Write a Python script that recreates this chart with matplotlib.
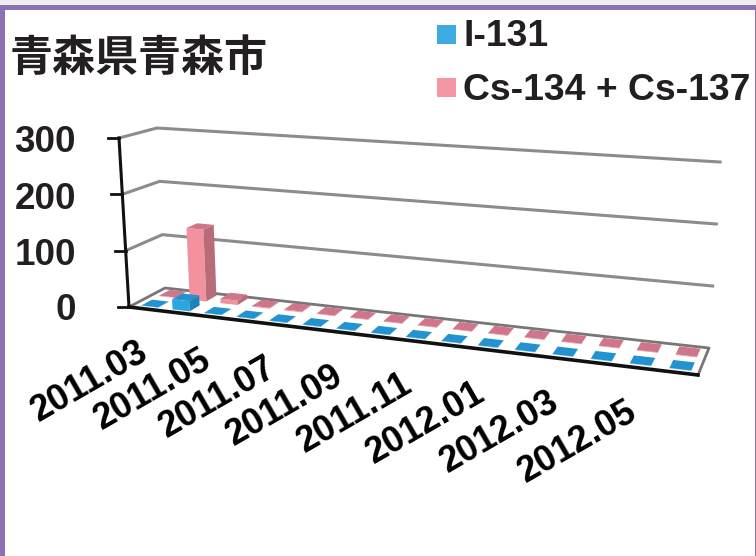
import matplotlib
matplotlib.use("Agg")
import matplotlib.pyplot as plt
from matplotlib.patches import Polygon, Rectangle
import numpy as np

# ---- data ----
months = ["2011.03","2011.04","2011.05","2011.06","2011.07","2011.08","2011.09","2011.10",
          "2011.11","2011.12","2012.01","2012.02","2012.03","2012.04","2012.05","2012.06"]
i131 = [0.5,18,0.5,0.5,0.5,0.5,0.5,0.5,0.5,0.5,0.5,0.5,0.5,0.5,0.5,0.5]
cs = [1,130,8,1.5,1.5,1,1,1,1,1,1,1,1,1,1,1]
yticks = [0,100,200,300]
title = "青森県青森市"
series_names = ["I-131","Cs-134 + Cs-137"]
FONT = ["Liberation Sans","Noto Sans CJK JP","DejaVu Sans"]

fig = plt.figure(figsize=(7.56,5.56),dpi=100)
ax = fig.add_axes([0,0,1,1])
ax.set_xlim(0,756); ax.set_ylim(556,0); ax.axis("off")

# perspective box: corners (front/back, left/right) at value 0 and value 300
FL0,FR0,BL0,BR0 = map(np.array,[(129,307),(698,375),(165,288),(709,348)])
FL3,FR3,BL3,BR3 = map(np.array,[(119,138),(711,180),(157,128),(720,162)])
K=1.15
def proj(u,d,v):
    f=u/(u+K*(1-u))
    t=v/300
    front0=FL0+(FR0-FL0)*f; back0=BL0+(BR0-BL0)*f
    front3=FL3+(FR3-FL3)*f; back3=BL3+(BR3-BL3)*f
    a=front0+(back0-front0)*d; b=front3+(back3-front3)*d
    return tuple(a+(b-a)*t)

# walls / gridlines
for v in yticks[1:]:
    ax.plot(*zip(proj(0,0,v),proj(0,1,v),proj(1,1,v)),color="#8c8c8c",lw=2.2,zorder=1,solid_joinstyle="miter")
ax.plot(*zip(proj(0,0,0),proj(0,1,0),proj(1,1,0),proj(1,0,0)),color="#777777",lw=2,zorder=1)

def bar(i,depth,val,front,side,top,z):
    w=0.54/16; dd=0.15
    c=(i+.5)/16+0.002
    u0=c-w/2; u1=c+w/2
    d0=depth-dd; d1=depth+dd
    ax.add_patch(Polygon([proj(u0,d0,0),proj(u1,d0,0),proj(u1,d0,val),proj(u0,d0,val)],fc=front,ec="none",zorder=z))
    ax.add_patch(Polygon([proj(u1,d0,0),proj(u1,d1,0),proj(u1,d1,val),proj(u1,d0,val)],fc=side,ec="none",zorder=z))
    ax.add_patch(Polygon([proj(u0,d0,val),proj(u1,d0,val),proj(u1,d1,val),proj(u0,d1,val)],fc=top,ec="none",zorder=z))

for i,v in enumerate(cs):
    bar(i,0.77,v,"#f4919f","#b86c7a","#d0768a",2+i*0.01)
for i,v in enumerate(i131):
    bar(i,0.27,v,"#2ca6e0","#1f82b8","#2293d0",3+i*0.01)

# front edge and value axis
ax.plot(*zip(proj(0,0,0),proj(1,0,0)),color="#111111",lw=2.6,zorder=4)
ax.plot(*zip(proj(0,0,0),proj(0,0,300)),color="#111111",lw=2.2,zorder=4)
for v in yticks:
    x,y=proj(0,0,v)
    ax.plot([x-11,x],[y,y],color="#111111",lw=2,zorder=4)
    ax.text(76,y+5 if v else y+4,str(v),ha="right",va="center",family=FONT,weight="bold",fontsize=26.5,color="#231f20")

# category labels
for i in range(0,16,2):
    x,y=proj((i+.5)/16,0,0)
    ax.text(x-8-i*0.3,y+26,months[i],rotation=30,rotation_mode="anchor",ha="right",va="top",
            family=FONT,weight="bold",fontsize=26,color="black")

# title, legend
ax.text(10,58,title,family=["Noto Sans CJK JP","DejaVu Sans"],weight="bold",fontsize=31,va="center",color="#231f20")
ax.add_patch(Rectangle((437,25),19,19,fc="#3eaae2",ec="none"))
ax.add_patch(Rectangle((437,78),19,19,fc="#f596a4",ec="none"))
ax.text(463,36,series_names[0],family=FONT,weight="bold",fontsize=26.8,va="center",color="#231f20")
ax.text(463,90,series_names[1],family=FONT,weight="bold",fontsize=26.8,va="center",color="#231f20")

# frame
ax.add_patch(Rectangle((0,0),756,5,fc="#eeeeee",ec="none",zorder=5))
ax.add_patch(Rectangle((0,5),756,4.5,fc="#8b72b3",ec="none",zorder=5))
ax.add_patch(Rectangle((0,5),4.5,551,fc="#8b72b3",ec="none",zorder=5))
ax.add_patch(Rectangle((754.5,5),1.5,551,fc="#8b72b3",ec="none",zorder=5))
fig.savefig("out.png",dpi=100,facecolor="white")
